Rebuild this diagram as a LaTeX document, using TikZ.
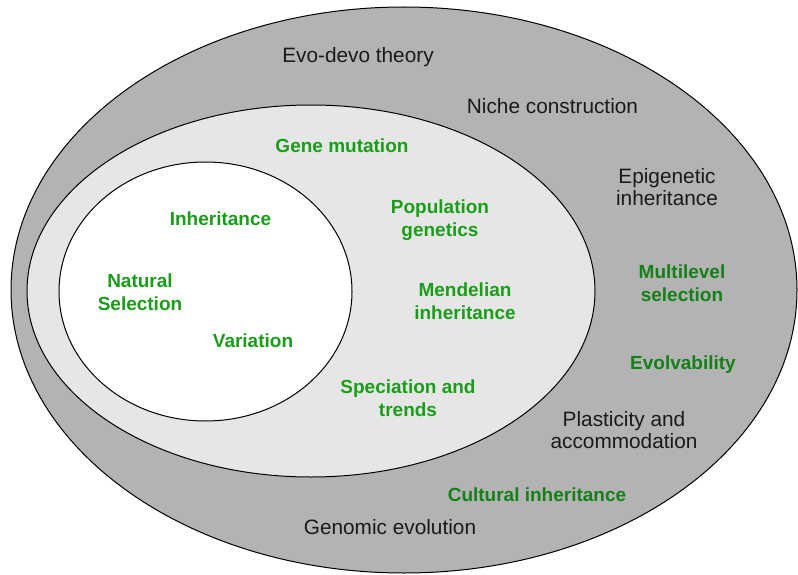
\documentclass[tikz,border=0pt]{standalone}
\usepackage{fontspec}
\setmainfont{Liberation Sans}
\definecolor{outerfill}{RGB}{179,179,179}
\definecolor{midfill}{RGB}{230,230,230}
\definecolor{ingreen}{RGB}{26,158,26}
\definecolor{outgreen}{RGB}{20,128,24}
\definecolor{darktext}{RGB}{26,26,26}
\begin{document}
\begin{tikzpicture}[x=1pt,y=-1pt,
  ring/.style={draw=black,line width=1pt},
  lbl/.style={inner sep=0pt,align=center},
  blk/.style={lbl,text=darktext,font=\fontsize{20.8}{22.5}\selectfont},
  gin/.style={lbl,text=ingreen,font=\fontsize{19}{22.5}\selectfont\bfseries},
  gout/.style={lbl,text=outgreen,font=\fontsize{19}{22.5}\selectfont\bfseries}]
\useasboundingbox (0,0) rectangle (798,575);
\fill[white] (0,0) rectangle (798,575);
\filldraw[ring,fill=outerfill] (404,290) ellipse [x radius=393pt, y radius=283pt];
\filldraw[ring,fill=midfill] (311,291) ellipse [x radius=284pt, y radius=186pt];
\filldraw[ring,fill=white] (205.5,291.5) ellipse [x radius=146.5pt, y radius=129.5pt];
% outer ring
\node[blk] (evodevo) at (358,57) {Evo-devo theory};
\node[blk] (niche) at (552.5,106) {Niche construction};
\node[blk] (epi) at (667,187) {Epigenetic\\inheritance};
\node[gout] (multi) at (682,283) {Multilevel\\selection};
\node[gout] (evolv) at (683,365) {Evolvability};
\node[blk] (plast) at (624,430) {Plasticity and\\accommodation};
\node[gout] (cult) at (537,495) {Cultural inheritance};
\node[blk] (genomic) at (390,527) {Genomic evolution};
% middle ring
\node[gin] (gene) at (342,146) {Gene mutation};
\node[gin] (popgen) at (440,220) {Population\\genetics};
\node[gin] (mendel) at (465,301) {Mendelian\\inheritance};
\node[gin] (spec) at (408,398) {Speciation and\\trends};
% inner
\node[gin] (inher) at (220.5,219) {Inheritance};
\node[gin] (natsel) at (140,292) {Natural\\Selection};
\node[gin] (var) at (253,341) {Variation};
\end{tikzpicture}
\end{document}
